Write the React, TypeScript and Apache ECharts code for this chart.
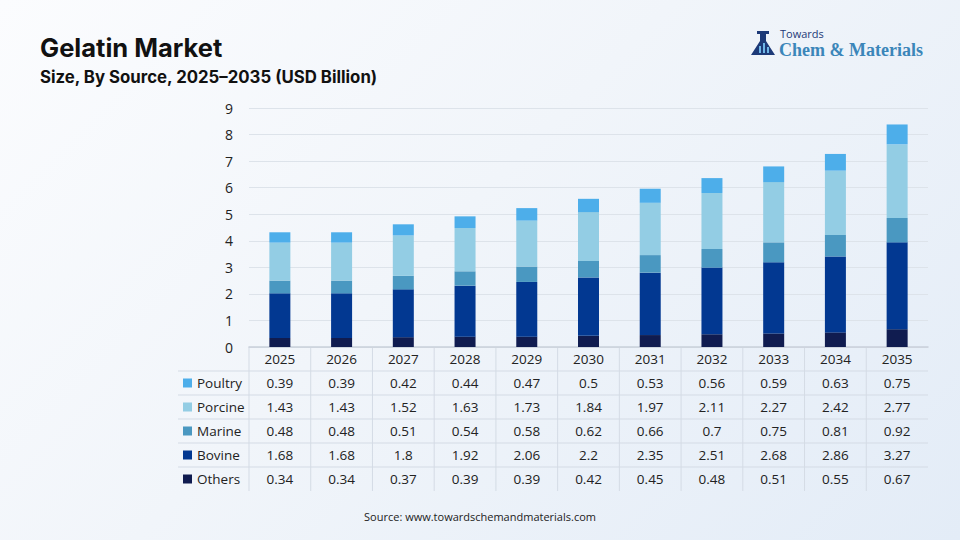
import React, { useEffect, useRef } from "react";
import * as echarts from "echarts";

const years = ["2025", "2026", "2027", "2028", "2029", "2030", "2031", "2032", "2033", "2034", "2035"];
const others = [0.34, 0.34, 0.37, 0.39, 0.39, 0.42, 0.45, 0.48, 0.51, 0.55, 0.67];
const bovine = [1.68, 1.68, 1.8, 1.92, 2.06, 2.2, 2.35, 2.51, 2.68, 2.86, 3.27];
const marine = [0.48, 0.48, 0.51, 0.54, 0.58, 0.62, 0.66, 0.7, 0.75, 0.81, 0.92];
const porcine = [1.43, 1.43, 1.52, 1.63, 1.73, 1.84, 1.97, 2.11, 2.27, 2.42, 2.77];
const poultry = [0.39, 0.39, 0.42, 0.44, 0.47, 0.5, 0.53, 0.56, 0.59, 0.63, 0.75];
const yTicks = [0, 9, 1];

const seriesDefs = [
  { name: "Others", data: others, color: "#101c50" },
  { name: "Bovine", data: bovine, color: "#023891" },
  { name: "Marine", data: marine, color: "#4a98c1" },
  { name: "Porcine", data: porcine, color: "#93cde4" },
  { name: "Poultry", data: poultry, color: "#4daeea" },
];
const tableOrder = ["Poultry", "Porcine", "Marine", "Bovine", "Others"];

const W = 960;
const H = 540;
const GL = 249;
const GR = 928;
const GT = 108;
const GB = 347;
const ROW_H = 24;
const TABLE_LEFT = 178;
const FONT = "'Open Sans', 'Noto Sans', sans-serif";

export default function App() {
  const ref = useRef<HTMLDivElement>(null);
  useEffect(() => {
    if (!ref.current) return;
    const chart = echarts.init(ref.current, null, { renderer: "svg" });
    const colW = (GR - GL) / years.length;
    const graphics: any[] = [];
    const rowsCount = tableOrder.length;
    for (let r = 1; r <= rowsCount; r++) {
      graphics.push({
        type: "line",
        shape: { x1: TABLE_LEFT, y1: GB + r * ROW_H, x2: GR, y2: GB + r * ROW_H },
        style: { stroke: "#d4dbe5", lineWidth: 1 },
        silent: true,
      });
    }
    for (let c = 0; c < years.length; c++) {
      graphics.push({
        type: "line",
        shape: { x1: GL + c * colW, y1: GB, x2: GL + c * colW, y2: GB + (rowsCount + 1) * ROW_H },
        style: { stroke: "#d4dbe5", lineWidth: 1 },
        silent: true,
      });
    }
    tableOrder.forEach((name, r) => {
      const def = seriesDefs.find((s) => s.name === name)!;
      const cy = GB + (r + 1) * ROW_H + ROW_H / 2;
      graphics.push({
        type: "rect",
        shape: { x: 183, y: cy - 4.5, width: 9, height: 9 },
        style: { fill: def.color },
        silent: true,
      });
      graphics.push({
        type: "text",
        x: 197,
        y: cy,
        style: { text: name, font: `13.5px ${FONT}`, fill: "#222", textAlign: "left", textVerticalAlign: "middle" },
        silent: true,
      });
      def.data.forEach((v, i) => {
        graphics.push({
          type: "text",
          x: GL + (i + 0.5) * colW,
          y: cy,
          style: { text: String(v), font: `13.5px ${FONT}`, fill: "#222", textAlign: "center", textVerticalAlign: "middle" },
          silent: true,
        });
      });
    });
    graphics.push({
      type: "text",
      x: 40,
      y: 47,
      style: { text: "Gelatin Market", font: `bold 25.5px Inter, sans-serif`, fill: "#111", textVerticalAlign: "middle" },
    });
    graphics.push({
      type: "text",
      x: 40,
      y: 77,
      style: { text: "Size, By Source, 2025–2035 (USD Billion)", font: `bold 16.8px Inter, sans-serif`, fill: "#111", textVerticalAlign: "middle" },
    });
    // logo
    graphics.push({
      type: "polygon",
      shape: { points: [[760, 34], [766, 34], [766, 41], [775, 55], [751, 55], [760, 41]] },
      style: { fill: "#1d3a78" },
    });
    graphics.push({ type: "rect", shape: { x: 757, y: 31, width: 12, height: 3 }, style: { fill: "#1d3a78" } });
    graphics.push({ type: "rect", shape: { x: 759, y: 46, width: 2, height: 7 }, style: { fill: "#6fb6e6" } });
    graphics.push({ type: "rect", shape: { x: 763, y: 43, width: 2, height: 10 }, style: { fill: "#6fb6e6" } });
    graphics.push({ type: "rect", shape: { x: 767, y: 47, width: 2, height: 6 }, style: { fill: "#6fb6e6" } });
    graphics.push({
      type: "text",
      x: 780,
      y: 33,
      style: { text: "Towards", font: `11px 'Open Sans', sans-serif`, fill: "#1d3a78", textVerticalAlign: "middle" },
    });
    graphics.push({
      type: "text",
      x: 779,
      y: 50,
      style: { text: "Chem & Materials", font: `bold 18px 'Liberation Serif', serif`, fill: "#3b86b9", textVerticalAlign: "middle" },
    });
    graphics.push({
      type: "text",
      x: 480,
      y: 516,
      style: { text: "Source: www.towardschemandmaterials.com", font: `11px ${FONT}`, fill: "#222", textAlign: "center", textVerticalAlign: "middle" },
    });

    chart.setOption({
      animation: false,
      backgroundColor: "transparent",
      grid: { left: GL, right: W - GR, top: GT, bottom: H - GB },
      xAxis: {
        type: "category",
        data: years,
        axisLine: { show: true, lineStyle: { color: "#c9d0da", width: 1.5 } },
        axisTick: { show: false },
        axisLabel: { margin: 5, fontSize: 13.5, color: "#222", fontFamily: FONT, verticalAlign: "top", lineHeight: 14 },
      },
      yAxis: {
        type: "value",
        min: yTicks[0],
        max: yTicks[1],
        interval: yTicks[2],
        axisLine: { show: false },
        axisTick: { show: false },
        splitLine: { lineStyle: { color: "#dde3ea", width: 1 } },
        axisLabel: { fontSize: 14, color: "#222", fontFamily: FONT, margin: 16 },
      },
      series: seriesDefs.map((s) => ({
        name: s.name,
        type: "bar",
        stack: "total",
        barWidth: 21,
        data: s.data,
        itemStyle: { color: s.color },
      })),
      graphic: graphics,
    });
    return () => chart.dispose();
  }, []);
  return (
    <div
      style={{
        position: "fixed",
        left: 0,
        top: 0,
        width: W,
        height: H,
        background: "linear-gradient(135deg, #fbfcfe 0%, #f1f5fa 45%, #e3ecf7 100%)",
      }}
    >
      <div ref={ref} style={{ width: W, height: H }} />
    </div>
  );
}
